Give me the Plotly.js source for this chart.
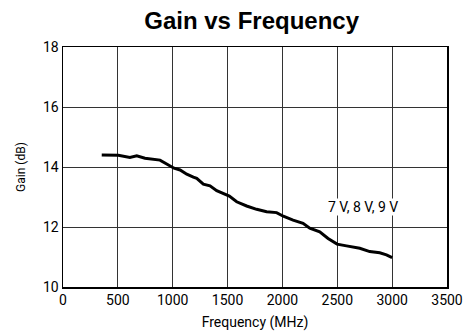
<!DOCTYPE html>
<html>
<head>
<meta charset="utf-8">
<script src="https://cdn.plot.ly/plotly-3.0.1.min.js"></script>
<style>html,body{margin:0;padding:0;background:#fff;}#chart{width:466px;height:335px;}</style>
</head>
<body>
<div id="chart"></div>
<script>
const freqMHz = [353, 504, 610, 672, 747, 823, 884, 945, 1012, 1067, 1128, 1188, 1219, 1279, 1340, 1401, 1462, 1516, 1583, 1674, 1765, 1856, 1947, 2008, 2097, 2188, 2249, 2340, 2416, 2498, 2584, 2705, 2796, 2887, 2948, 3000];
const gainDb = [14.40, 14.39, 14.32, 14.37, 14.29, 14.27, 14.23, 14.10, 13.96, 13.90, 13.76, 13.66, 13.62, 13.43, 13.37, 13.21, 13.12, 13.03, 12.84, 12.70, 12.59, 12.51, 12.48, 12.36, 12.23, 12.12, 11.96, 11.84, 11.62, 11.43, 11.37, 11.29, 11.18, 11.14, 11.07, 10.98];
const xTicks = [0, 500, 1000, 1500, 2000, 2500, 3000, 3500];
const yTicks = [10, 12, 14, 16, 18];
const labelText = "7 V, 8 V, 9 V";
const labelPos = [2730, 12.68];

const font = "'Liberation Sans Narrow', Roboto, 'Liberation Sans', Arial, sans-serif";
Plotly.newPlot('chart', [{
  x: freqMHz, y: gainDb, type: 'scatter', mode: 'lines',
  line: {color: '#000', width: 3}, showlegend: false, hoverinfo: 'skip'
}], {
  width: 466, height: 335,
  margin: {l: 63, r: 19, t: 47, b: 48},
  paper_bgcolor: '#fff', plot_bgcolor: '#fff',
  title: {text: '<b>Gain vs Frequency</b>', x: 0.54, xanchor: 'center', y: 0.94, yanchor: 'middle',
          font: {family: "'Liberation Sans', Arial, sans-serif", size: 24, color: '#000'}},
  xaxis: {range: [0, 3500], tickvals: xTicks, ticktext: xTicks.map(String), showgrid: true,
          gridcolor: '#333', gridwidth: 1, showline: true, linecolor: '#000', linewidth: 1.5, mirror: true,
          zeroline: false, ticks: '', tickfont: {family: font, size: 14, color: '#000'},
          title: {text: 'Frequency (MHz)', font: {family: font, size: 14, color: '#000'}, standoff: 10}},
  yaxis: {range: [10, 18], tickvals: yTicks, ticktext: yTicks.map(String), showgrid: true,
          gridcolor: '#333', gridwidth: 1, showline: true, linecolor: '#000', linewidth: 1.5, mirror: true,
          zeroline: false, ticks: '', tickfont: {family: font, size: 14, color: '#000'},
          title: {text: 'Gain (dB)', font: {family: font, size: 12, color: '#000'}, standoff: 15}},
  annotations: [{x: labelPos[0], y: labelPos[1], text: labelText, showarrow: false,
                 bgcolor: '#fff', font: {family: font, size: 14, color: '#000'}, borderpad: 0}]
}, {staticPlot: true, displayModeBar: false});
</script>
</body>
</html>
